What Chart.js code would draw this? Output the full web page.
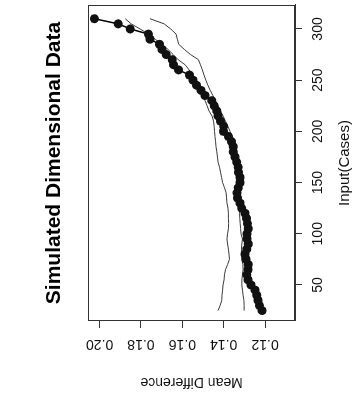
<!DOCTYPE html>
<html>
<head>
<meta charset="utf-8">
<script src="https://cdn.jsdelivr.net/npm/chart.js@4.4.1/dist/chart.umd.min.js"></script>
<style>
  html, body { margin: 0; padding: 0; background: #fff; overflow: hidden; }
  #wrap { position: relative; width: 359px; height: 396px; overflow: hidden; }
  /* the plot is laid out landscape and turned a quarter turn anticlockwise */
  #turn { position: absolute; left: 0; top: 0; width: 396px; height: 359px;
          transform-origin: 0 0; transform: translate(0, 396px) rotate(-90deg); }
</style>
</head>
<body>
<div id="wrap"><div id="turn"><canvas id="plot" width="396" height="359"></canvas></div></div>
<script>
const cases = [25, 30, 35, 40, 45, 50, 55, 60, 65, 70, 75, 80, 85, 90, 95, 100,
  105, 110, 115, 120, 125, 130, 135, 140, 145, 150, 155, 160, 165, 170, 175, 180,
  185, 190, 195, 200, 205, 210, 215, 220, 225, 230, 235, 240, 245, 250, 255, 260,
  265, 270, 275, 280, 285, 290, 295, 300, 305, 310];

const meanDiff = [0.1214, 0.1227, 0.1234, 0.1240, 0.1248, 0.1268, 0.1282, 0.1288,
  0.1282, 0.1281, 0.1292, 0.1297, 0.1288, 0.1281, 0.1287, 0.1287, 0.1281, 0.1285,
  0.1289, 0.1297, 0.1313, 0.1321, 0.1333, 0.1335, 0.1329, 0.1321, 0.1321, 0.1328,
  0.1330, 0.1337, 0.1345, 0.1353, 0.1353, 0.1362, 0.1377, 0.1401, 0.1400, 0.1415,
  0.1427, 0.1433, 0.1446, 0.1457, 0.1490, 0.1509, 0.1531, 0.1548, 0.1565, 0.1618,
  0.1642, 0.1649, 0.1678, 0.1698, 0.1710, 0.1756, 0.1764, 0.1852, 0.1910, 0.2025];

const upperCurve = [0.1427, 0.1417, 0.1409, 0.1408, 0.1405, 0.1403, 0.1398, 0.1396,
  0.1391, 0.1381, 0.1372, 0.1374, 0.1377, 0.1381, 0.1384, 0.1381, 0.1377, 0.1376,
  0.1377, 0.1377, 0.1379, 0.1384, 0.1386, 0.1388, 0.1396, 0.1405, 0.1410, 0.1415,
  0.1420, 0.1427, 0.1430, 0.1433, 0.1437, 0.1439, 0.1442, 0.1444, 0.1446, 0.1449,
  0.1456, 0.1471, 0.1480, 0.1490, 0.1500, 0.1512, 0.1524, 0.1538, 0.1553, 0.1567,
  0.1586, 0.1620, 0.1644, 0.1669, 0.1698, 0.1731, 0.1763, 0.1804, 0.1847, 0.1876];

const lowerCurve = [0.1301, 0.1301, 0.1302, 0.1306, 0.1309, 0.1312, 0.1312, 0.1309,
  0.1306, 0.1307, 0.1312, 0.1314, 0.1314, 0.1312, 0.1309, 0.1316, 0.1318, 0.1320,
  0.1322, 0.1323, 0.1324, 0.1324, 0.1325, 0.1326, 0.1327, 0.1328, 0.1328, 0.1329,
  0.1330, 0.1331, 0.1333, 0.1337, 0.1343, 0.1350, 0.1358, 0.1369, 0.1380, 0.1391,
  0.1403, 0.1415, 0.1428, 0.1440, 0.1452, 0.1465, 0.1476, 0.1486, 0.1495, 0.1503,
  0.1512, 0.1522, 0.1560, 0.1590, 0.1617, 0.1624, 0.1630, 0.1656, 0.1688, 0.1756];

const caseTicks = [50, 100, 150, 200, 250, 300];
const diffTicks = [0.12, 0.14, 0.16, 0.18, 0.20];

const FONT = "'Liberation Sans', Arial, Helvetica, sans-serif";
const INK = "#333";

const toPoints = (vals) => cases.map((c, i) => ({ x: c, y: vals[i] }));

// full box round the plot region
const frame = {
  id: "frame",
  afterDatasetsDraw(chart) {
    const { ctx, chartArea: a } = chart;
    ctx.save();
    ctx.strokeStyle = INK;
    ctx.lineWidth = 1;
    ctx.strokeRect(Math.round(a.left) + 0.5, Math.round(a.top) + 0.5,
      Math.round(a.width) - 1, Math.round(a.height) - 1);
    ctx.restore();
  }
};

new Chart(document.getElementById("plot"), {
  type: "line",
  data: {
    datasets: [
      {
        label: "Mean Difference",
        data: toPoints(meanDiff),
        borderColor: "#000",
        backgroundColor: "#000",
        borderWidth: 1.5,
        pointRadius: 4.5,
        pointBorderWidth: 0,
        pointBackgroundColor: "#111",
        tension: 0
      },
      {
        label: "upper",
        data: toPoints(upperCurve),
        borderColor: "#3a3a3a",
        borderWidth: 1,
        pointRadius: 0,
        tension: 0
      },
      {
        label: "lower",
        data: toPoints(lowerCurve),
        borderColor: "#3a3a3a",
        borderWidth: 1,
        pointRadius: 0,
        tension: 0
      }
    ]
  },
  options: {
    responsive: false,
    animation: false,
    events: [],
    layout: { padding: { left: 0, right: 5, top: 0, bottom: 0 } },
    plugins: {
      legend: { display: false },
      tooltip: { enabled: false },
      title: {
        display: true,
        fullSize: false,
        text: "Simulated Dimensional Data",
        color: "#000",
        font: { family: FONT, size: 21, weight: "bold" },
        padding: { top: 42, bottom: 21 }
      }
    },
    scales: {
      x: {
        type: "linear",
        position: "bottom",
        min: 14.8,
        max: 323.4,
        afterBuildTicks: (s) => { s.ticks = caseTicks.map((v) => ({ value: v })); },
        afterFit: (s) => { s.height = 64; },
        grid: { drawOnChartArea: false, drawTicks: true, tickLength: 7, tickColor: INK },
        border: { display: true, color: INK },
        ticks: {
          autoSkip: false,
          maxRotation: 0,
          padding: 8,
          color: "#111",
          font: { family: FONT, size: 14 },
          callback: (v) => String(v)
        },
        title: {
          display: true,
          text: "Input(Cases)",
          color: "#111",
          font: { family: FONT, size: 15 },
          padding: { top: 0, bottom: 5 }
        }
      },
      y: {
        type: "linear",
        position: "left",
        min: 0.1055,
        max: 0.2055,
        afterBuildTicks: (s) => { s.ticks = diffTicks.map((v) => ({ value: v })); },
        afterFit: (s) => { s.width = 75; },
        grid: { drawOnChartArea: false, drawTicks: true, tickLength: 7, tickColor: INK },
        border: { display: true, color: INK },
        ticks: {
          autoSkip: false,
          minRotation: 90,
          maxRotation: 90,
          crossAlign: "center",
          padding: 2,
          color: "#111",
          font: { family: FONT, size: 14 },
          callback: (v) => v.toFixed(2)
        },
        title: {
          display: true,
          text: "Mean Difference",
          color: "#111",
          font: { family: FONT, size: 14 },
          padding: { top: 5.6, bottom: 0 }
        }
      }
    }
  },
  plugins: [frame]
});
</script>
</body>
</html>
